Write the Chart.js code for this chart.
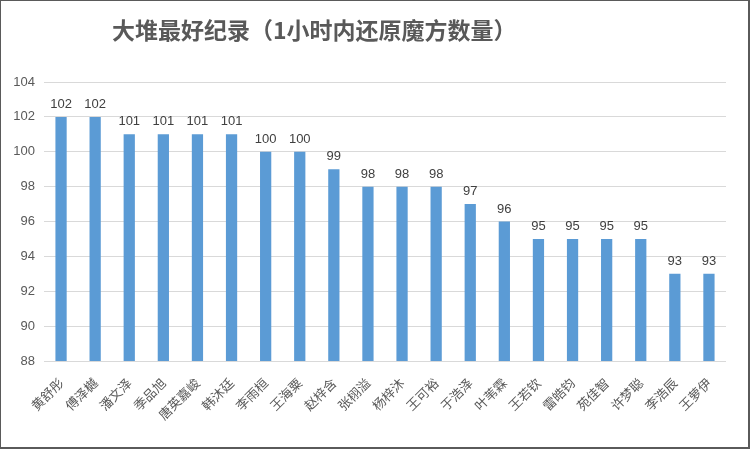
<!DOCTYPE html>
<html>
<head>
<meta charset="utf-8">
<script src="https://cdn.jsdelivr.net/npm/chart.js@4/dist/chart.umd.min.js"></script>
<style>
  html, body { margin: 0; padding: 0; background: #fff; }
  #wrap { width: 750px; height: 449px; box-sizing: border-box; border: 2px solid #5a5a5a; border-top-width: 1px; border-left-width: 1px; }
  #wrap canvas { display: block; }
</style>
</head>
<body>
<div id="wrap"><canvas id="recordChart" width="747" height="446"></canvas></div>
<script>
// --- Данные ---
const chartTitle = '大堆最好纪录（1小时内还原魔方数量）';
const names = ['黄舒彤', '傅泽樾', '潘文泽', '季品旭', '唐英嘉峻', '韩沐廷', '李雨桓', '王海粟', '赵梓含', '张栩溢',
               '杨梓沐', '王可裕', '于浩泽', '叶苇霖', '王若钦', '雷皓钧', '苑佳智', '许梦聪', '李浩辰', '王萝伊'];
const counts = [102, 102, 101, 101, 101, 101, 100, 100, 99, 98,
                98, 98, 97, 96, 95, 95, 95, 95, 93, 93];
const yTicks = [88, 90, 92, 94, 96, 98, 100, 102, 104];

// Заголовок (левее центра, как в оригинале)
const titlePlugin = {
    id: 'titleLeft',
    afterDraw(chart) {
        const ctx = chart.ctx;
        ctx.save();
        ctx.font = 'bold 23px "Noto Sans CJK SC"';
        ctx.fillStyle = '#595959';
        ctx.textAlign = 'left';
        ctx.textBaseline = 'middle';
        ctx.fillText(chartTitle, 111, 29);
        ctx.restore();
    }
};

// Подписи значений над столбиками
const valueLabels = {
    id: 'valueLabels',
    afterDatasetsDraw(chart) {
        const ctx = chart.ctx;
        const meta = chart.getDatasetMeta(0);
        ctx.save();
        ctx.font = '13px "Liberation Sans", sans-serif';
        ctx.fillStyle = '#404040';
        ctx.textAlign = 'center';
        ctx.textBaseline = 'bottom';
        meta.data.forEach((bar, i) => {
            ctx.fillText(counts[i], bar.x, bar.y - 6);
        });
        ctx.restore();
    }
};

new Chart(document.getElementById('recordChart'), {
    type: 'bar',
    data: {
        labels: names,
        datasets: [{
            data: counts,
            backgroundColor: '#5B9BD5',
            borderWidth: 0,
            categoryPercentage: 1,
            barPercentage: 0.33
        }]
    },
    options: {
        responsive: false,
        animation: false,
        layout: { padding: { left: 0, right: 22, top: 81, bottom: 0 } },
        plugins: {
            legend: { display: false },
            tooltip: { enabled: false },
            title: { display: false }
        },
        scales: {
            x: {
                grid: { display: false },
                border: { display: false },
                ticks: {
                    color: '#595959',
                    font: { family: '"Noto Sans CJK SC"', size: 13 },
                    maxRotation: 45,
                    minRotation: 45,
                    autoSkip: false,
                    padding: 6
                },
                afterFit(scale) { scale.height = 86; }
            },
            y: {
                min: 88,
                max: 104,
                afterBuildTicks(scale) { scale.ticks = yTicks.map(v => ({ value: v })); },
                grid: { color: '#D9D9D9', lineWidth: 1, drawTicks: false },
                border: { display: false },
                ticks: {
                    color: '#595959',
                    font: { family: '"Liberation Sans", sans-serif', size: 13 },
                    padding: 9
                },
                afterFit(scale) { scale.width = 43; }
            }
        }
    },
    plugins: [titlePlugin, valueLabels]
});
</script>
</body>
</html>
